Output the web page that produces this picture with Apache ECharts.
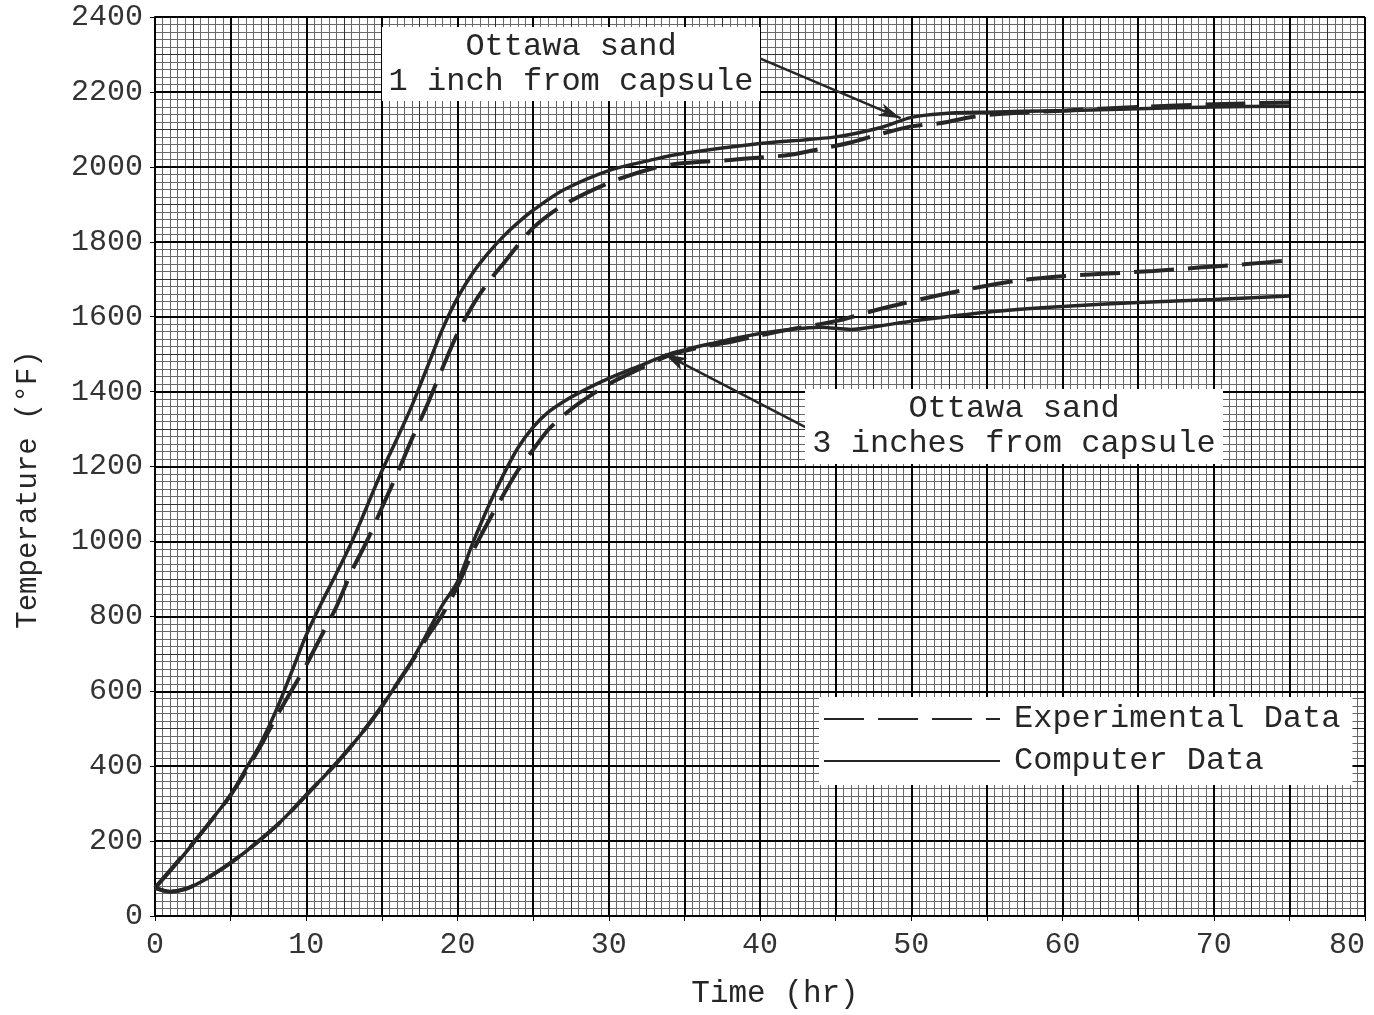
<!DOCTYPE html>
<html>
<head>
<meta charset="utf-8">
<script src="https://cdn.jsdelivr.net/npm/echarts@6/dist/echarts.min.js"></script>
<style>
  html, body { margin: 0; padding: 0; background: #fff; overflow: hidden; }
  #chart { width: 1374px; height: 1015px; }
</style>
</head>
<body>
<div id="chart"></div>
<script>
// Ottawa sand heating test: temperature vs. time, 1 in. and 3 in. from the capsule

// 1 inch from capsule, computer prediction
const hoursNearCalc = [0, 1, 2, 3, 4, 5, 6, 7, 8, 9, 10, 11, 12, 13, 14, 15, 16, 17, 18, 19, 20, 21, 22, 23, 24, 25, 27, 30, 33, 35, 40, 45, 48, 50, 52, 55, 60, 65, 70, 75];
const tempNearCalc  = [75, 120, 168, 218, 270, 323, 392, 462, 548, 648, 750, 835, 915, 998, 1092, 1188, 1274, 1364, 1465, 1566, 1650, 1716, 1768, 1813, 1851, 1884, 1938, 1990, 2020, 2036, 2062, 2080, 2105, 2132, 2142, 2146, 2150, 2155, 2160, 2162];

// 1 inch from capsule, measured
const hoursNearExp = [0, 2.5, 5, 7, 8, 9, 10, 11, 12, 13, 14, 15, 16, 17, 18, 19, 20, 21, 22, 23, 25, 27, 30, 33, 35, 38, 40, 42, 44, 46, 48, 50, 52, 54, 56, 60, 65, 70, 75];
const tempNearExp  = [75, 194, 323, 455, 530, 600, 670, 748, 826, 920, 1000, 1090, 1180, 1275, 1365, 1462, 1555, 1630, 1690, 1740, 1837, 1898, 1957, 1997, 2010, 2018, 2025, 2032, 2048, 2065, 2088, 2108, 2117, 2133, 2142, 2150, 2160, 2167, 2172];

// 3 inches from capsule, computer prediction
const hoursFarCalc = [0, 1, 2, 3, 4, 5, 6, 7, 8, 9, 10, 11, 12, 13, 14, 15, 16, 17, 18, 19, 20, 21, 22, 23, 24, 25, 26, 27, 28, 30, 32, 34, 37, 40, 42, 44, 46, 48, 50, 55, 60, 65, 70, 75];
const tempFarCalc  = [75, 65, 72, 90, 115, 142, 172, 205, 240, 280, 323, 365, 408, 455, 505, 560, 620, 683, 755, 830, 892, 995, 1090, 1175, 1250, 1305, 1345, 1373, 1396, 1435, 1468, 1500, 1530, 1555, 1566, 1572, 1566, 1576, 1588, 1612, 1627, 1638, 1646, 1655];

// 3 inches from capsule, measured
const hoursFarExp = [0, 1, 2, 3, 4, 5, 6, 7, 8, 9, 10, 11, 12, 13, 14, 15, 16, 17, 18, 19, 20, 21, 22, 23, 24, 25, 26, 27, 28, 30, 32, 34, 36, 38, 40, 42, 45, 48, 51, 54, 57, 60, 63, 66, 69, 72, 75];
const tempFarExp  = [75, 65, 72, 90, 115, 142, 172, 205, 240, 280, 323, 365, 408, 455, 505, 560, 620, 680, 745, 805, 880, 972, 1050, 1122, 1190, 1245, 1298, 1336, 1368, 1420, 1460, 1497, 1518, 1532, 1550, 1566, 1588, 1621, 1650, 1675, 1696, 1708, 1715, 1722, 1731, 1740, 1750];

// axis tick values
const timeTicks = [0, 10, 20, 30, 40, 50, 60, 70, 80];
const tempTicks = [0, 200, 400, 600, 800, 1000, 1200, 1400, 1600, 1800, 2000, 2200, 2400];

const pairs = (xs, ys) => xs.map((x, i) => [x, ys[i]]);

const FONT = '"Liberation Mono", "DejaVu Sans Mono", monospace';
const INK = '#262626';
const DASH = [40, 14];

const chart = echarts.init(document.getElementById('chart'), null, { renderer: 'canvas' });

// graph-paper layers: fine (0.5 h / 20 F), medium (2.5 h / 100 F), heavy (5 h / 200 F)
function paperAxis(max, step, color, width, z) {
  return {
    type: 'value', min: 0, max: max, interval: step, z: z,
    axisLine: { show: false }, axisTick: { show: false }, axisLabel: { show: false },
    splitLine: { show: true, lineStyle: { color: color, width: width } }
  };
}

const lineSeries = (name, data, dashed, extra) => Object.assign({
  name: name,
  type: 'line',
  data: data,
  smooth: 0.3,
  showSymbol: false,
  symbol: 'none',
  z: 5,
  silent: true,
  lineStyle: { color: INK, width: dashed ? 4 : 3.5, type: dashed ? DASH : 'solid' },
  itemStyle: { color: INK }
}, extra || {});

const arrowStyle = {
  symbol: ['none', 'arrow'],
  symbolSize: [10, 22],
  silent: true,
  animation: false,
  label: { show: false },
  lineStyle: { color: INK, width: 2.5, type: 'solid' }
};

chart.setOption({
  animation: false,
  backgroundColor: '#ffffff',
  grid: { left: 155, right: 9, top: 17, bottom: 99, containLabel: false, outerBoundsMode: 'none' },
  xAxis: [
    {
      type: 'value', min: 0, max: 80, interval: 5, z: 2,
      name: 'Time (hr)', nameLocation: 'middle', nameGap: 62,
      nameTextStyle: { fontFamily: FONT, fontSize: 31, color: INK, padding: [0, 0, 0, 30] },
      axisLine: { show: true, lineStyle: { color: '#000', width: 2 } },
      axisTick: { show: true, length: 5, lineStyle: { color: '#000' } },
      axisLabel: {
        fontFamily: FONT, fontSize: 30, color: '#333', margin: 14,
        alignMaxLabel: 'right',
        formatter: v => (timeTicks.indexOf(v) >= 0 ? String(v) : '')
      },
      splitLine: { show: true, lineStyle: { color: '#000', width: 2 } }
    },
    paperAxis(80, 0.5, '#686868', 1, 0),
    paperAxis(80, 2.5, '#333333', 1, 1)
  ],
  yAxis: [
    {
      type: 'value', min: 0, max: 2400, interval: 200, z: 2,
      name: 'Temperature (°F)', nameLocation: 'middle', nameGap: 112, nameRotate: 90,
      nameTextStyle: { fontFamily: FONT, fontSize: 29, color: INK, padding: [0, 46, 0, 0] },
      axisLine: { show: true, lineStyle: { color: '#000', width: 2 } },
      axisTick: { show: true, length: 5, lineStyle: { color: '#000' } },
      axisLabel: {
        fontFamily: FONT, fontSize: 30, color: '#333', margin: 12,
        formatter: v => (tempTicks.indexOf(v) >= 0 ? String(v) : '')
      },
      splitLine: { show: true, lineStyle: { color: '#000', width: 2 } }
    },
    paperAxis(2400, 20, '#686868', 1, 0),
    paperAxis(2400, 100, '#333333', 1, 1)
  ],
  legend: {
    data: ['Experimental Data', 'Computer Data'],
    orient: 'vertical',
    left: 819,
    top: 697,
    z: 10,
    itemWidth: 176,
    itemHeight: 2,
    itemGap: 6,
    backgroundColor: '#ffffff',
    padding: [4, 12, 6, 4],
    selectedMode: false,
    itemStyle: { opacity: 0 },
    textStyle: { fontFamily: FONT, fontSize: 32, color: INK, lineHeight: 36, padding: [0, 0, 0, 9] }
  },
  series: [
    lineSeries('Experimental Data', pairs(hoursNearExp, tempNearExp), true),
    lineSeries('Computer Data', pairs(hoursNearCalc, tempNearCalc), false, {
      markLine: Object.assign({ data: [[{ coord: [39.8, 2293] }, { coord: [49.3, 2130] }]] }, arrowStyle)
    }),
    lineSeries('Experimental Data', pairs(hoursFarExp, tempFarExp), true),
    lineSeries('Computer Data', pairs(hoursFarCalc, tempFarCalc), false, {
      markLine: Object.assign({ data: [[{ coord: [43.0, 1305] }, { coord: [33.7, 1500] }]] }, arrowStyle)
    })
  ]
});

// annotation boxes naming the two probe positions
function noteBox(x, y, w, h, lines) {
  return [
    { type: 'rect', z: 100, shape: { x: x, y: y, width: w, height: h }, style: { fill: '#ffffff' } },
    {
      type: 'text', z: 101, x: x + w / 2, y: y + h / 2,
      style: {
        text: lines.join('\n'), fill: INK, font: '32px ' + FONT,
        textAlign: 'center', textVerticalAlign: 'middle', lineHeight: 35
      }
    }
  ];
}
chart.setOption({
  graphic: [].concat(
    noteBox(382, 27, 378, 74, ['Ottawa sand', '1 inch from capsule']),
    noteBox(805, 389, 418, 75, ['Ottawa sand', '3 inches from capsule'])
  )
});
</script>
</body>
</html>
